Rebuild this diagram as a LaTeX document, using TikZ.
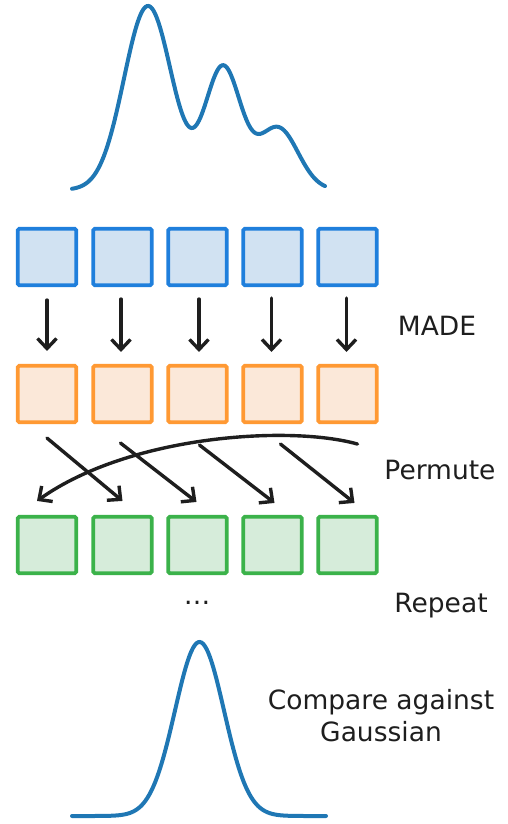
\documentclass[tikz,border=0pt]{standalone}
\usepackage{fontspec}
\setmainfont{DejaVu Sans}
\usetikzlibrary{arrows.meta,positioning}
\definecolor{ink}{HTML}{1E1E1E}
\definecolor{densblue}{HTML}{1F77B4}
\definecolor{inedge}{HTML}{1F7FDC}
\definecolor{infill}{HTML}{D1E2F2}
\definecolor{midedge}{HTML}{FF9933}
\definecolor{midfill}{HTML}{FBE8D9}
\definecolor{outedge}{HTML}{3BB24A}
\definecolor{outfill}{HTML}{D6ECDA}
\tikzset{cell/.style={draw,line width=3.6pt,minimum width=58.5pt,minimum height=56.5pt,inner sep=0pt,rounded corners=1.5pt}}
\tikzset{incell/.style={cell,draw=inedge,fill=infill}}
\tikzset{midcell/.style={cell,draw=midedge,fill=midfill}}
\tikzset{outcell/.style={cell,draw=outedge,fill=outfill}}
\tikzset{flow/.style={-{Straight Barb[length=10pt,width=19pt]},line width=3.4pt,draw=ink,line cap=round}}
\tikzset{density/.style={draw=densblue,line width=4pt,line cap=round}}
\tikzset{caption/.style={text=ink,font=\fontsize{26.5}{32}\selectfont,align=center}}

\begin{document}
\begin{tikzpicture}[x=1pt,y=-1pt]
\useasboundingbox (0,0) rectangle (508,824);
% mixture density on top
\draw[density] plot[domain=72:325,samples=200,smooth]
  (\x,{190-184*exp(-(((\x-148)/33.94)^2))-122*exp(-(((\x-223)/25.46)^2))-62*exp(-(((\x-278)/28.28)^2))});
%
\node (b1) [incell] at (47,257) {};
\node (b2) [incell] at (122.5,257) {};
\node (b3) [incell] at (197.5,257) {};
\node (b4) [incell] at (272.5,257) {};
\node (b5) [incell] at (347.5,257) {};
\node (o1) [midcell] at (47,394) {};
\node (o2) [midcell] at (122.5,394) {};
\node (o3) [midcell] at (197.5,394) {};
\node (o4) [midcell] at (272.5,394) {};
\node (o5) [midcell] at (347.5,394) {};
\node (g1) [outcell] at (47,545) {};
\node (g2) [outcell] at (122.5,545) {};
\node (g3) [outcell] at (197.5,545) {};
\node (g4) [outcell] at (272.5,545) {};
\node (g5) [outcell] at (347.5,545) {};
%
\draw[flow] ([yshift=-13pt]b1.south) -- ([yshift=13pt]o1.north);
\draw[flow] ([yshift=-12pt,xshift=-1.5pt]b2.south) -- ([yshift=12pt,xshift=-1.5pt]o2.north);
\draw[flow] ([yshift=-12pt,xshift=1.5pt]b3.south) -- ([yshift=12pt,xshift=1.5pt]o3.north);
\draw[flow] ([yshift=-11pt,xshift=-1pt]b4.south) -- ([yshift=12pt,xshift=-1pt]o4.north);
\draw[flow] ([yshift=-11pt,xshift=-1pt]b5.south) -- ([yshift=12pt,xshift=-1pt]o5.north);
%
\draw[flow] ([yshift=-14pt]o1.south) -- ([yshift=14pt]g2.north);
\draw[flow] ([yshift=-19pt,xshift=-2pt]o2.south) -- ([yshift=13pt,xshift=-1pt]g3.north);
\draw[flow] ([yshift=-21pt,xshift=2pt]o3.south) -- ([yshift=12pt,xshift=2pt]g4.north);
\draw[flow] ([yshift=-20pt,xshift=8pt]o4.south) -- ([yshift=12pt,xshift=7pt]g5.north);
\draw[flow] ([yshift=-20pt,xshift=10pt]o5.south)
  .. controls (290,425) and (130,435) .. ([yshift=14pt,xshift=-10pt]g1.north);
%
\node (made) [caption] at (437,326) {MADE};
\node (perm) [caption] at (440,470) {Permute};
\node (rep) [caption] at (441,606) {Repeat};
\node (dots) [caption] at (197,603) {…};
\node (cmp) [caption] at (381,716) {Compare against\\Gaussian};
% target density at the bottom
\draw[density] plot[domain=72:326,samples=150,smooth]
  (\x,{816-174*exp(-(((\x-199.5)/34.65)^2))});
\end{tikzpicture}
\end{document}
